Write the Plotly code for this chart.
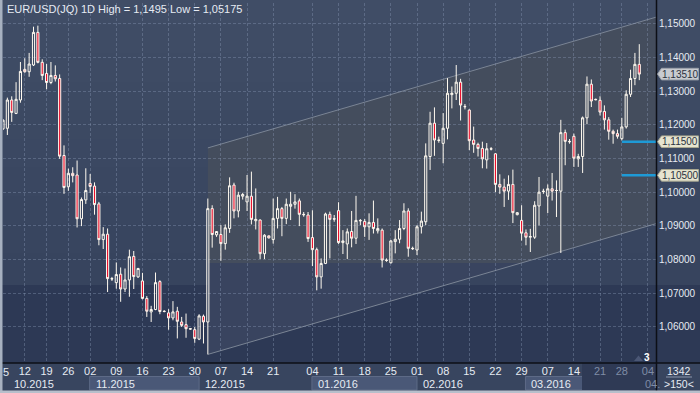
import plotly.graph_objects as go

W, H = 700, 393
ML, MR, MT, MB = 3, 44, 3, 30
PW = W - ML - MR
PH = H - MT - MB

# ---------------- data (EUR/USD daily) ----------------
opens = [1.1188, 1.1190, 1.1274, 1.1234, 1.1274, 1.1365, 1.1358, 1.1378, 1.1475, 1.1386,
         1.1353, 1.1326, 1.1347, 1.1338, 1.1109, 1.1016, 1.1056, 1.1051, 1.0921, 1.0977,
         1.1026, 1.1018, 1.0965, 1.0859, 1.0875, 1.0743, 1.0731, 1.0756, 1.0712, 1.0739,
         1.0809, 1.0748, 1.0736, 1.0684, 1.0644, 1.0651, 1.0734, 1.0646, 1.0641, 1.0626,
         1.0646, 1.0614, 1.0606, 1.0594, 1.0591, 1.0563, 1.0631, 1.0614, 1.0951, 1.0873,
         1.0874, 1.0847, 1.0892, 1.1021, 1.0944, 1.0988, 1.0971, 1.0988, 1.0915, 1.0917,
         1.0817, 1.0870, 1.0859, 1.0922, 1.0951, 1.0922, 1.0958, 1.0964, 1.0974, 1.0934,
         1.0932, 1.0865, 1.0829, 1.0748, 1.0788, 1.0934, 1.0921, 1.0945, 1.0850, 1.0846,
         1.0883, 1.0863, 1.0916, 1.0913, 1.0897, 1.0910, 1.0885, 1.0887, 1.0798, 1.0790,
         1.0853, 1.0860, 1.0892, 1.0944, 1.0833, 1.0828, 1.0897, 1.0912, 1.1106, 1.1205,
         1.1155, 1.1145, 1.1190, 1.1290, 1.1294, 1.1327, 1.1255, 1.1244, 1.1155, 1.1142,
         1.1130, 1.1096, 1.1129, 1.1114, 1.1023, 1.1015, 1.1003, 1.1023, 1.0933, 1.0916,
         1.0879, 1.0866, 1.0866, 1.0959, 1.1003, 1.0988, 1.1010, 1.1005, 1.1003, 1.1177,
         1.1151, 1.1166, 1.1099, 1.1106, 1.1221, 1.1321, 1.1276, 1.1273, 1.1240, 1.1215,
         1.1181, 1.1174, 1.1159, 1.1194, 1.1291, 1.1338, 1.1380]
highs = [1.1217, 1.1281, 1.1285, 1.1327, 1.1387, 1.1398, 1.1414, 1.1492, 1.1495, 1.1395,
         1.1381, 1.1387, 1.1377, 1.1350, 1.1139, 1.1070, 1.1074, 1.1094, 1.0984, 1.1071,
         1.1054, 1.1029, 1.0971, 1.0896, 1.0892, 1.0748, 1.0791, 1.0776, 1.0773, 1.0829,
         1.0825, 1.0775, 1.0760, 1.0691, 1.0662, 1.0761, 1.0738, 1.0649, 1.0652, 1.0676,
         1.0659, 1.0629, 1.0639, 1.0596, 1.0599, 1.0637, 1.0636, 1.0981, 1.0961, 1.0883,
         1.0902, 1.0904, 1.1044, 1.1028, 1.1001, 1.0998, 1.1051, 1.1061, 1.1011, 1.0919,
         1.0875, 1.0871, 1.0981, 1.0986, 1.0956, 1.0981, 1.1001, 1.0994, 1.0981, 1.0941,
         1.0941, 1.0946, 1.0835, 1.0803, 1.0939, 1.0942, 1.0932, 1.0970, 1.0887, 1.0892,
         1.0944, 1.0989, 1.0920, 1.0920, 1.0937, 1.0975, 1.0922, 1.0892, 1.0803, 1.0858,
         1.0887, 1.0917, 1.0967, 1.0952, 1.0838, 1.0902, 1.0942, 1.1145, 1.1239, 1.1252,
         1.1165, 1.1235, 1.1339, 1.1314, 1.1378, 1.1337, 1.1262, 1.1246, 1.1195, 1.1147,
         1.1150, 1.1146, 1.1134, 1.1116, 1.1053, 1.1040, 1.1050, 1.1067, 1.0941, 1.0961,
         1.0889, 1.0891, 1.0973, 1.1045, 1.1010, 1.1023, 1.1057, 1.1035, 1.1215, 1.1186,
         1.1158, 1.1174, 1.1114, 1.1225, 1.1344, 1.1335, 1.1278, 1.1285, 1.1258, 1.1223,
         1.1186, 1.1186, 1.1221, 1.1303, 1.1364, 1.1414, 1.1440]
lows = [1.1185, 1.1170, 1.1209, 1.1232, 1.1266, 1.1355, 1.1343, 1.1375, 1.1383, 1.1333,
        1.1306, 1.1321, 1.1329, 1.1099, 1.0995, 1.1004, 1.1029, 1.0895, 1.0899, 1.0965,
        1.0998, 1.0933, 1.0842, 1.0831, 1.0703, 1.0736, 1.0713, 1.0674, 1.0703, 1.0689,
        1.0712, 1.0745, 1.0681, 1.0629, 1.0614, 1.0649, 1.0637, 1.0643, 1.0591, 1.0619,
        1.0565, 1.0599, 1.0567, 1.0591, 1.0552, 1.0560, 1.0550, 1.05175, 1.0835, 1.0867,
        1.0796, 1.0829, 1.0879, 1.0922, 1.0925, 1.0978, 1.0944, 1.0904, 1.0889, 1.0801,
        1.0801, 1.0862, 1.0847, 1.0892, 1.0869, 1.0905, 1.0917, 1.0951, 1.0899, 1.0927,
        1.0852, 1.0780, 1.0708, 1.0713, 1.0786, 1.0803, 1.0912, 1.0846, 1.0816, 1.0801,
        1.0836, 1.0846, 1.0902, 1.0867, 1.0858, 1.0877, 1.0877, 1.0776, 1.0793, 1.0788,
        1.0818, 1.0848, 1.0887, 1.0808, 1.0828, 1.0813, 1.0877, 1.0902, 1.1066, 1.1108,
        1.1147, 1.1086, 1.1157, 1.1249, 1.1274, 1.1213, 1.1246, 1.1125, 1.1117, 1.1106,
        1.1071, 1.1070, 1.1124, 1.1000, 1.0995, 1.0956, 1.0977, 1.0908, 1.0931, 1.0856,
        1.0842, 1.0822, 1.0861, 1.0901, 1.0995, 1.0938, 1.0975, 1.0926, 1.0819, 1.1080,
        1.1144, 1.1075, 1.1075, 1.1057, 1.1202, 1.1253, 1.1273, 1.1228, 1.1186, 1.1156,
        1.1144, 1.1159, 1.1154, 1.1189, 1.1283, 1.1318, 1.1333]
closes = [1.1214, 1.1274, 1.1237, 1.1276, 1.1359, 1.1358, 1.1381, 1.1475, 1.1386, 1.1347,
          1.1326, 1.1347, 1.1337, 1.1107, 1.1014, 1.1056, 1.1049, 1.0921, 1.0978, 1.1005,
          1.1017, 1.0963, 1.0859, 1.0875, 1.0743, 1.0742, 1.0755, 1.0712, 1.0739, 1.0808,
          1.0749, 1.0773, 1.0684, 1.0646, 1.0651, 1.0731, 1.0645, 1.0645, 1.0626, 1.0644,
          1.0616, 1.0604, 1.0594, 1.0593, 1.0565, 1.0632, 1.0614, 1.0951, 1.0874, 1.0883,
          1.0847, 1.0894, 1.1019, 1.0944, 1.0991, 1.0993, 1.0988, 1.0919, 1.0919, 1.0817,
          1.0872, 1.0864, 1.0922, 1.0951, 1.0922, 1.0964, 1.0964, 1.0971, 1.0934, 1.0933,
          1.0862, 1.0829, 1.0748, 1.0788, 1.0935, 1.0919, 1.0920, 1.0850, 1.0855, 1.0882,
          1.0863, 1.0916, 1.0915, 1.0897, 1.0910, 1.0892, 1.0892, 1.0798, 1.0797, 1.0855,
          1.0860, 1.0892, 1.0944, 1.0833, 1.0832, 1.0897, 1.0914, 1.1108, 1.1205, 1.1155,
          1.1154, 1.1190, 1.1294, 1.1294, 1.1327, 1.1259, 1.1254, 1.1153, 1.1142, 1.1130,
          1.1099, 1.1129, 1.1128, 1.1023, 1.1015, 1.1003, 1.1023, 1.0939, 1.0939, 1.0878,
          1.0866, 1.0868, 1.0961, 1.1000, 1.1002, 1.1010, 1.1003, 1.1005, 1.1177, 1.1151,
          1.1150, 1.1101, 1.1106, 1.1221, 1.1321, 1.1271, 1.1275, 1.1238, 1.1215, 1.1181,
          1.1174, 1.1166, 1.1194, 1.1291, 1.1338, 1.1380, 1.1351]
bar_index = list(range(len(opens)))

day_tick_index = [0, 5, 10, 15, 20, 26, 32, 38, 44, 50, 56, 62, 71, 77, 83, 89, 95, 101,
                  107, 113, 119, 125, 131, 137, 142, 148]
day_tick_text = ["5", "12", "19", "26", "02", "09", "16", "23", "30", "07", "14", "21",
                 "04", "11", "18", "25", "01", "08", "15", "22", "29", "07", "14", "21",
                 "28", "04"]
dim_from_index = 137          # labels in the shaded (right) zone are dimmed
month_start_index = [20, 45, 71, 95, 120, 146]
month_labels = ["10.2015", "11.2015", "12.2015", "01.2016", "02.2016", "03.2016", "04."]
boxed_months = ["11.2015", "01.2016", "03.2016"]

price_ticks = [1.06, 1.07, 1.08, 1.09, 1.10, 1.11, 1.12, 1.13, 1.14, 1.15]
last_price = 1.1351
level_prices = [1.115, 1.105]
level_start_index = 142

title_text = "EUR/USD(JQ) 1D High = 1,1495 Low = 1,05175"
bars_count_text = "1342"
zoom_text = ">150<"

channel_start_index = 47
channel_low_start = 1.05175
channel_width = 0.0614
channel_slope = 0.000378
channel_split_level = 1.0789

# ---------------- geometry helpers ----------------
X_MAX = 149.84
Y_MIN, Y_MAX = 1.0492, 1.15624


def px2paper_x(px):
    return (px - ML) / PW


def py2paper_y(py):
    return (H - MB - py) / PH


def fmt(v, d=5):
    return f"{v:.{d}f}".replace(".", ",")


FONT = "Liberation Sans, Arial, sans-serif"
TXT = "#e6ebf3"
DIM = "#7f8ca6"

fig = go.Figure()

fig.add_trace(go.Candlestick(
    x=bar_index, open=opens, high=highs, low=lows, close=closes,
    increasing=dict(line=dict(color="#fffaf0", width=1), fillcolor="rgba(0,0,0,0)"),
    decreasing=dict(line=dict(color="#fffaf0", width=1), fillcolor="#ea0f2d"),
    whiskerwidth=0, showlegend=False, hoverinfo="skip",
))

shapes = []
# background bands (gradient approximation)
grad_top = (64, 77, 102)
grad_bot = (55, 68, 94)
nb = 10
band_edge = 285
for i in range(nb):
    y0p = band_edge * i / nb
    y1p = band_edge * (i + 1) / nb
    t = (i + 0.5) / nb
    c = tuple(round(grad_top[k] + (grad_bot[k] - grad_top[k]) * t) for k in range(3))
    shapes.append(dict(type="rect", xref="paper", yref="paper", layer="below",
                       x0=px2paper_x(0), x1=px2paper_x(W), y0=py2paper_y(y1p), y1=py2paper_y(y0p) + 0.01,
                       fillcolor="rgb(%d,%d,%d)" % c, line=dict(width=0)))
shapes.append(dict(type="rect", xref="paper", yref="paper", layer="below",
                   x0=px2paper_x(0), x1=px2paper_x(W), y0=py2paper_y(363), y1=py2paper_y(band_edge),
                   fillcolor="#2d3955", line=dict(width=0)))
# axis band
shapes.append(dict(type="rect", xref="paper", yref="paper", layer="below",
                   x0=px2paper_x(0), x1=px2paper_x(W), y0=py2paper_y(H), y1=py2paper_y(363),
                   fillcolor="#38455f", line=dict(width=0)))

# channel (two-tone parallelogram)
x0c = channel_start_index
x1c = X_MAX
lo0 = channel_low_start
hi0 = lo0 + channel_width
lo1 = lo0 + channel_slope * (x1c - x0c)
hi1 = lo1 + channel_width
xs = x0c + (channel_split_level - lo0) / channel_slope
upper_path = (f"M {x0c},{channel_split_level} L {xs},{channel_split_level} L {x1c},{lo1} "
              f"L {x1c},{hi1} L {x0c},{hi0} Z")
lower_path = f"M {x0c},{lo0} L {xs},{channel_split_level} L {x0c},{channel_split_level} Z"
shapes.append(dict(type="path", xref="x", yref="y", layer="below", path=upper_path,
                   fillcolor="#444d5d", line=dict(width=0)))
shapes.append(dict(type="path", xref="x", yref="y", layer="below", path=lower_path,
                   fillcolor="#39445f", line=dict(width=0)))
for a, b in [(lo0, lo1), (hi0, hi1)]:
    shapes.append(dict(type="line", xref="x", yref="y", layer="below",
                       x0=x0c, x1=x1c, y0=a, y1=b, line=dict(color="#7a8494", width=1)))

# level lines
for lv in level_prices:
    shapes.append(dict(type="line", xref="x", yref="y", x0=level_start_index, x1=X_MAX,
                       y0=lv, y1=lv, line=dict(color="#1e9ad6", width=2.5)))

# axis band: month boxes and shaded future zone
px_per_bar = PW / X_MAX


def idx2px(i):
    return ML + i * px_per_bar


month_x_px = [12] + [idx2px(i) for i in month_start_index]
month_end_px = [idx2px(i) for i in month_start_index] + [656]
for lab, xs_px, xe_px in zip(month_labels, month_x_px, month_end_px):
    if lab in boxed_months:
        shapes.append(dict(type="rect", xref="paper", yref="paper", layer="below",
                           x0=px2paper_x(xs_px - 0.5), x1=px2paper_x(xe_px),
                           y0=py2paper_y(390), y1=py2paper_y(376.5),
                           fillcolor="#4a5877", line=dict(color="#5d6a86", width=1)))
shapes.append(dict(type="rect", xref="paper", yref="paper", layer="below",
                   x0=px2paper_x(582), x1=px2paper_x(656), y0=py2paper_y(390), y1=py2paper_y(363),
                   fillcolor="#2f3a55", line=dict(width=0)))
# separator lines
shapes.append(dict(type="line", xref="paper", yref="paper", x0=px2paper_x(0), x1=px2paper_x(W),
                   y0=py2paper_y(363), y1=py2paper_y(363), line=dict(color="#0c0f16", width=1.5)))
shapes.append(dict(type="line", xref="paper", yref="paper", x0=px2paper_x(656.5), x1=px2paper_x(656.5),
                   y0=py2paper_y(H), y1=py2paper_y(0), line=dict(color="#0c0f16", width=1.5)))
shapes.append(dict(type="line", xref="paper", yref="paper", x0=px2paper_x(666), x1=px2paper_x(692),
                   y0=py2paper_y(377), y1=py2paper_y(377), line=dict(color="#8c98ae", width=1)))
# frame
shapes.append(dict(type="rect", xref="paper", yref="paper", x0=px2paper_x(0), x1=px2paper_x(2.5),
                   y0=py2paper_y(H), y1=py2paper_y(0), fillcolor="#a7b1c0", line=dict(width=0)))
shapes.append(dict(type="rect", xref="paper", yref="paper", x0=px2paper_x(0), x1=px2paper_x(W),
                   y0=py2paper_y(H), y1=py2paper_y(390.5), fillcolor="#b7bfcb", line=dict(width=0)))

# price tags
half = 5.8 * (Y_MAX - Y_MIN) / PH
tags = [(last_price, "#c8cbd0", "#9ba1aa")] + [(lv, "#e6e4d0", "#aaa891") for lv in level_prices]
annotations = []
for val, fill, border in tags:
    tip = px2paper_x(657.5)
    xl = px2paper_x(661.5)
    xr = px2paper_x(698.5)
    shapes.append(dict(type="path", xref="paper", yref="y",
                       path=f"M {tip},{val} L {xl},{val + half} L {xr},{val + half} L {xr},{val - half} L {xl},{val - half} Z",
                       fillcolor=fill, line=dict(color=border, width=1)))
    annotations.append(dict(xref="paper", yref="y", x=px2paper_x(680), y=val, text=fmt(val),
                            showarrow=False, xanchor="center", yanchor="middle",
                            font=dict(family=FONT, size=10, color="#2b3240")))

# marker "3"
shapes.append(dict(type="path", xref="paper", yref="paper",
                   path=f"M {px2paper_x(634)},{py2paper_y(361)} L {px2paper_x(638.5)},{py2paper_y(355.5)} "
                        f"L {px2paper_x(643)},{py2paper_y(361)} Z",
                   fillcolor="#4b5775", line=dict(width=0)))
annotations.append(dict(xref="paper", yref="paper", x=px2paper_x(646.5), y=py2paper_y(357.5), text="<b>3</b>",
                        showarrow=False, xanchor="center", yanchor="middle",
                        font=dict(family=FONT, size=10, color="#ffffff")))

# title
annotations.append(dict(xref="paper", yref="paper", x=px2paper_x(5), y=py2paper_y(9), text=title_text,
                        showarrow=False, xanchor="left", yanchor="middle",
                        font=dict(family=FONT, size=11, color=TXT)))
# first (edge) day label
annotations.append(dict(xref="paper", yref="paper", x=px2paper_x(5.5), y=py2paper_y(372),
                        text=day_tick_text[0], showarrow=False, xanchor="center", yanchor="middle",
                        font=dict(family=FONT, size=11, color=TXT)))
# month labels
for lab, xs_px in zip(month_labels, month_x_px):
    color = DIM if lab == month_labels[-1] else TXT
    annotations.append(dict(xref="paper", yref="paper", x=px2paper_x(xs_px + (0 if lab == month_labels[0] else 3.5)),
                            y=py2paper_y(384), text=lab, showarrow=False, xanchor="left", yanchor="middle",
                            font=dict(family=FONT, size=11, color=color)))
# bottom-right box
annotations.append(dict(xref="paper", yref="paper", x=px2paper_x(679), y=py2paper_y(370.5), text=bars_count_text,
                        showarrow=False, xanchor="center", yanchor="middle",
                        font=dict(family=FONT, size=10.5, color=TXT)))
annotations.append(dict(xref="paper", yref="paper", x=px2paper_x(679), y=py2paper_y(384), text=zoom_text,
                        showarrow=False, xanchor="center", yanchor="middle",
                        font=dict(family=FONT, size=10.5, color=TXT)))

tick_text_styled = [("" if i == 0 else t) if i < dim_from_index else f"<span style='color:{DIM}'>{t}</span>"
                    for t, i in zip(day_tick_text, day_tick_index)]

fig.update_layout(
    width=W, height=H, margin=dict(l=ML, r=MR, t=MT, b=MB, pad=0),
    paper_bgcolor="#38455f", plot_bgcolor="rgba(0,0,0,0)",
    showlegend=False, shapes=shapes, annotations=annotations,
    font=dict(family=FONT, size=11, color=TXT),
    hovermode=False,
    xaxis=dict(range=[0, X_MAX], tickmode="array", tickvals=day_tick_index, ticktext=tick_text_styled,
               showgrid=True, gridcolor="rgba(140,155,185,0.38)", griddash="3px,2px", gridwidth=1,
               zeroline=False, showline=False, ticks="", rangeslider=dict(visible=False),
               tickfont=dict(family=FONT, size=11, color=TXT), fixedrange=True),
    yaxis=dict(range=[Y_MIN, Y_MAX], side="right", tickmode="array", tickvals=price_ticks,
               ticktext=[fmt(v) for v in price_ticks], showgrid=True,
               gridcolor="rgba(140,155,185,0.38)", griddash="3px,2px", gridwidth=1,
               zeroline=False, showline=False, ticks="", ticklabelstandoff=2,
               tickfont=dict(family=FONT, size=10, color=TXT), fixedrange=True),
)

fig.write_html("out.html", config={"displayModeBar": False, "staticPlot": True},
               post_script="document.body.style.margin='0';document.body.style.overflow='hidden';")
